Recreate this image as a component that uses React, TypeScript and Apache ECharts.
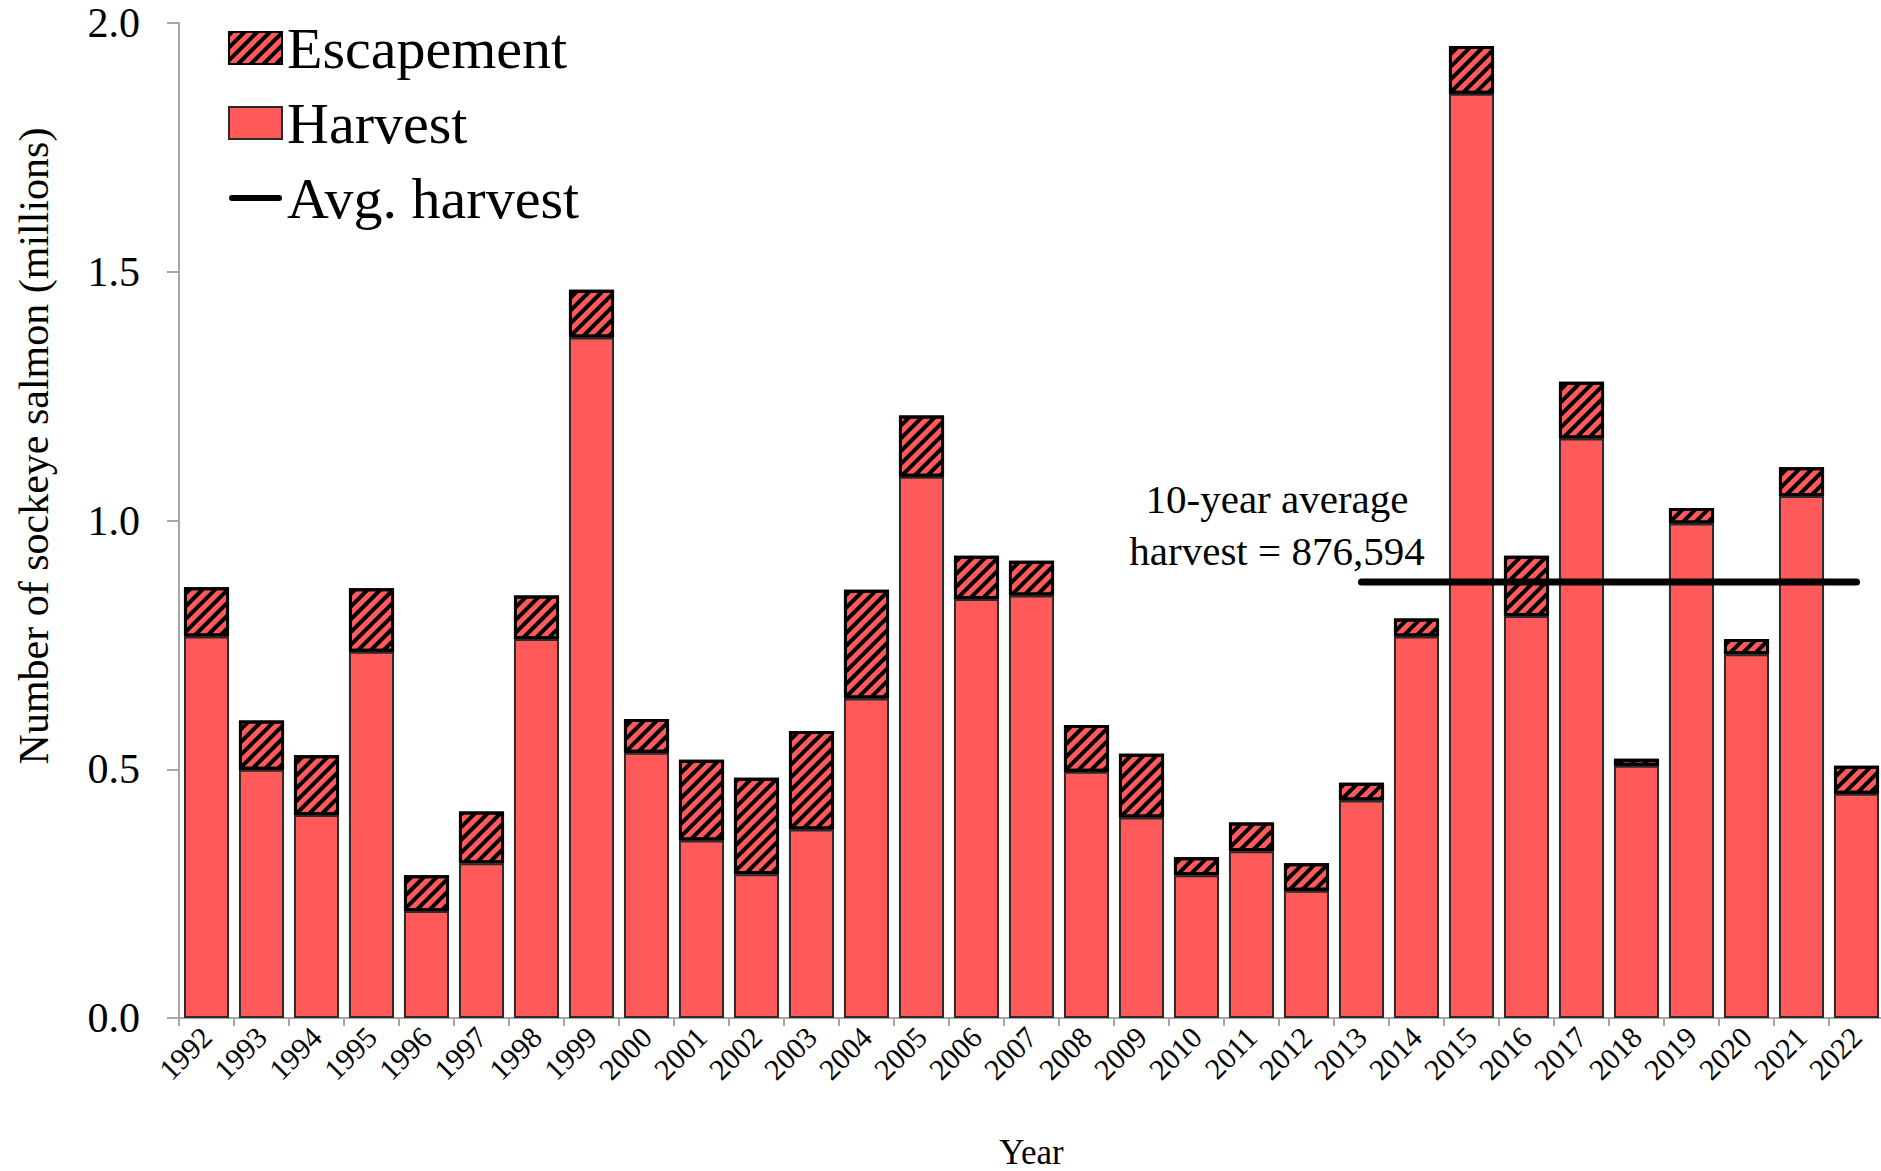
import React, { useEffect, useRef } from "react";
import * as echarts from "echarts";

const years = [
  "1992", "1993", "1994", "1995", "1996", "1997", "1998", "1999", "2000", "2001",
  "2002", "2003", "2004", "2005", "2006", "2007", "2008", "2009", "2010", "2011",
  "2012", "2013", "2014", "2015", "2016", "2017", "2018", "2019", "2020", "2021", "2022",
];

// millions of sockeye salmon
const harvest = [
  0.767, 0.499, 0.408, 0.736, 0.215, 0.311, 0.762, 1.368, 0.533, 0.357,
  0.289, 0.379, 0.642, 1.088, 0.842, 0.849, 0.495, 0.403, 0.287, 0.335,
  0.256, 0.437, 0.767, 1.858, 0.808, 1.165, 0.507, 0.994, 0.731, 1.049, 0.451,
];

const escapement = [
  0.099, 0.099, 0.120, 0.128, 0.072, 0.104, 0.087, 0.096, 0.068, 0.162,
  0.194, 0.198, 0.219, 0.123, 0.087, 0.070, 0.094, 0.128, 0.036, 0.058,
  0.055, 0.036, 0.036, 0.096, 0.121, 0.114, 0.014, 0.031, 0.031, 0.058, 0.056,
];

const avgHarvest = 0.876594;
const avgStartYear = "2013";
const avgLabel = "10-year average\nharvest = 876,594";
const yTicks = [0, 0.5, 1.0, 1.5, 2.0];

const FONT = "'Liberation Serif', 'Times New Roman', serif";
const RED = "#FF5959";

export default function App() {
  const ref = useRef<HTMLDivElement>(null);

  useEffect(() => {
    if (!ref.current) return;
    const chart = echarts.init(ref.current, null, { renderer: "svg" });
    const startIdx = years.indexOf(avgStartYear);
    const avgData = years.map((_, i) => (i >= startIdx ? avgHarvest : null));

    const option: any = {
      animation: false,
      backgroundColor: "#ffffff",
      textStyle: { fontFamily: FONT, color: "#000" },
      grid: { left: 179, top: 23, width: 1705, height: 995, containLabel: false, outerBoundsMode: "none" },
      legend: {
        left: 223,
        top: 14,
        orient: "vertical",
        itemWidth: 53,
        itemHeight: 32,
        itemGap: 17,
        selectedMode: false,
        textStyle: { fontFamily: FONT, fontSize: 58, lineHeight: 58, color: "#000", padding: [0, 0, 0, 0] },
        data: [
          { name: "Escapement", icon: "rect" },
          { name: "Harvest", icon: "rect" },
          {
            name: "Avg. harvest",
            icon: "path://M3,0 H50 A3,3 0 0 1 50,6 H3 A3,3 0 0 1 3,0 Z",
            itemStyle: { color: "#000", borderWidth: 0 },
          },
        ],
      },
      xAxis: {
        type: "category",
        data: years,
        boundaryGap: true,
        name: "Year",
        nameLocation: "middle",
        nameGap: 116,
        nameTextStyle: { fontFamily: FONT, fontSize: 35, lineHeight: 36, color: "#000" },
        axisLine: { show: true, lineStyle: { color: "#A6A6A6", width: 2 } },
        axisTick: { show: true, length: 8, lineStyle: { color: "#A6A6A6", width: 2 } },
        axisLabel: {
          rotate: 45,
          interval: 0,
          margin: 14,
          fontFamily: FONT,
          fontSize: 30,
          color: "#000",
        },
        splitLine: { show: false },
      },
      yAxis: {
        type: "value",
        min: yTicks[0],
        max: yTicks[yTicks.length - 1],
        interval: 0.5,
        axisLine: { show: true, lineStyle: { color: "#A6A6A6", width: 2 } },
        axisTick: { show: true, length: 12, lineStyle: { color: "#A6A6A6", width: 2 } },
        axisLabel: {
          margin: 39,
          fontFamily: FONT,
          fontSize: 42,
          color: "#000",
          formatter: (v: number) => v.toFixed(1),
        },
        splitLine: { show: false },
      },
      graphic: [
        {
          type: "text",
          x: 34,
          y: 446,
          rotation: Math.PI / 2,
          style: {
            text: "Number of sockeye salmon (millions)",
            fontFamily: FONT,
            fontSize: 42,
            fill: "#000",
            align: "center",
            verticalAlign: "middle",
          },
        },
        {
          type: "text",
          x: 1277,
          y: 525,
          z: 10,
          style: {
            text: avgLabel,
            fontFamily: FONT,
            fontSize: 41,
            lineHeight: 52,
            fill: "#000",
            align: "center",
            verticalAlign: "middle",
          },
        },
      ],
      series: [
        {
          name: "Harvest",
          type: "bar",
          stack: "total",
          data: harvest,
          barCategoryGap: "18%",
          silent: true,
          itemStyle: { color: RED, borderColor: "#2a2a2a", borderWidth: 2 },
        },
        {
          name: "Escapement",
          type: "bar",
          stack: "total",
          data: escapement,
          silent: true,
          itemStyle: {
            color: RED,
            borderColor: "#000",
            borderWidth: 3,
            decal: {
              symbol: "rect",
              symbolSize: 1,
              color: "#000",
              dashArrayX: [1, 0],
              dashArrayY: [4, 5],
              rotation: -Math.PI / 4,
            },
          },
        },
        {
          name: "Avg. harvest",
          type: "line",
          data: avgData,
          symbol: "none",
          showSymbol: false,
          connectNulls: false,
          silent: true,
          z: 5,
          itemStyle: { color: "#000" },
          lineStyle: { color: "#000", width: 7, cap: "round" },
        },
      ],
    };
    chart.setOption(option);
    return () => chart.dispose();
  }, []);

  return (
    <div
      ref={ref}
      style={{ position: "absolute", left: 0, top: 0, width: 1881, height: 1171, background: "#fff" }}
    />
  );
}
